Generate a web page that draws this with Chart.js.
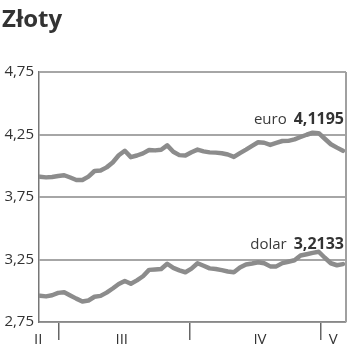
<!DOCTYPE html>
<html>
<head>
<meta charset="utf-8">
<script src="https://cdn.jsdelivr.net/npm/chart.js@4/dist/chart.umd.min.js"></script>
<style>
  html, body { margin: 0; padding: 0; background: #fff; }
  #wrap { position: relative; width: 350px; height: 354px; }
  #title { position: absolute; left: 2px; top: 6px; font: bold 24px/24px "Open Sans", sans-serif; color: #333; }
  canvas { position: absolute; left: 0; top: 0; }
</style>
</head>
<body>
<div id="wrap">
  <canvas id="c" width="350" height="354"></canvas>
  <div id="title">Złoty</div>
</div>
<script>
// ── Dane: kursy dzienne (sesje od połowy lutego do początku maja) ──
const euro = [
    3.912, 3.907, 3.910, 3.918, 3.924, 3.906, 3.886, 3.886, 3.913, 3.958,
    3.962, 3.987, 4.026, 4.084, 4.120, 4.069, 4.082, 4.099, 4.126, 4.123,
    4.128, 4.163, 4.112, 4.085, 4.082, 4.108, 4.129, 4.115, 4.107, 4.105,
    4.100, 4.090, 4.071, 4.101, 4.129, 4.159, 4.188, 4.184, 4.167, 4.183,
    4.198, 4.199, 4.211, 4.230, 4.248, 4.264, 4.261, 4.216, 4.172, 4.145,
    4.1195
];
const dolar = [
    2.960, 2.955, 2.964, 2.983, 2.988, 2.962, 2.937, 2.914, 2.922, 2.952,
    2.959, 2.985, 3.018, 3.054, 3.078, 3.056, 3.083, 3.116, 3.167, 3.170,
    3.174, 3.216, 3.183, 3.163, 3.148, 3.177, 3.220, 3.200, 3.179, 3.174,
    3.165, 3.154, 3.148, 3.186, 3.210, 3.218, 3.228, 3.220, 3.195, 3.195,
    3.221, 3.232, 3.244, 3.282, 3.292, 3.303, 3.312, 3.264, 3.220, 3.204,
    3.2133
];
const seriesNames = ['euro', 'dolar'];
const yTicks = [2.75, 3.25, 3.75, 4.25, 4.75];
const monthLabels = ['II', 'III', 'IV', 'V'];
const monthLabelPos = [-0.3, 13.5, 36.3, 48.4];   // indeks sesji (środek miesiąca)
const monthStarts = [3.14, 24.75, 46.37];          // granice miesięcy

const fmt = v => String(v).replace('.', ',');
const fmt2 = v => v.toFixed(2).replace('.', ',');

const toXY = arr => arr.map((v, i) => ({ x: i, y: v }));

// ── Plugin: ramka prawa, etykiety miesięcy, opisy serii ──
const extras = {
    id: 'extras',
    afterDraw(chart) {
        const { ctx, chartArea: a, scales: { x, y } } = chart;
        ctx.save();
        // prawa krawędź
        ctx.strokeStyle = '#a0a0a0';
        ctx.lineWidth = 2;
        ctx.beginPath();
        ctx.moveTo(a.right, a.top);
        ctx.lineTo(a.right, a.bottom);
        ctx.stroke();

        // miesiące
        ctx.fillStyle = '#333';
        ctx.font = '15px "Open Sans", sans-serif';
        ctx.textAlign = 'center';
        ctx.textBaseline = 'alphabetic';
        monthLabels.forEach((m, i) => {
            ctx.fillText(m, x.getPixelForValue(monthLabelPos[i]), a.bottom + 22);
        });

        // opisy: nazwa + ostatni kurs
        [euro, dolar].forEach((arr, k) => {
            const last = arr[arr.length - 1];
            const px = x.getPixelForValue(arr.length - 1);
            const py = y.getPixelForValue(k === 0 ? 4.25 : 3.25) - 11;
            ctx.textAlign = 'right';
            ctx.font = 'bold 16px "Open Sans", sans-serif';
            ctx.fillStyle = '#333';
            const numTxt = fmt(last);
            ctx.fillText(numTxt, px + 1, py);
            const w = ctx.measureText(numTxt).width;
            ctx.font = '15px "Open Sans", sans-serif';
            ctx.fillStyle = '#3a3a3a';
            ctx.fillText(seriesNames[k], px + 1 - w - 7, py);
        });
        ctx.restore();
    }
};

new Chart(document.getElementById('c'), {
    type: 'line',
    data: {
        datasets: [euro, dolar].map((arr, k) => ({
            label: seriesNames[k],
            data: toXY(arr),
            borderColor: '#8c8c8c',
            borderWidth: 4.5,
            pointRadius: 0,
            tension: 0,
            borderJoinStyle: 'round',
            borderCapStyle: 'round',
        }))
    },
    options: {
        responsive: false,
        animation: false,
        layout: { padding: { top: 72, right: 4, left: 0, bottom: 0 } },
        plugins: { legend: { display: false }, tooltip: { enabled: false } },
        scales: {
            x: {
                type: 'linear',
                min: -0.16,
                max: 50.5,
                afterBuildTicks: s => { s.ticks = monthStarts.map(v => ({ value: v })); },
                afterFit: s => { s.height = 32; },
                ticks: { display: false },
                grid: { drawOnChartArea: false, drawTicks: true, tickLength: 18, color: '#666', lineWidth: 1.5 },
                border: { color: '#888', width: 1.5 },
            },
            y: {
                min: 2.75,
                max: 4.75,
                afterBuildTicks: s => { s.ticks = yTicks.map(v => ({ value: v })); },
                afterFit: s => { s.width = 39; },
                ticks: {
                    callback: v => fmt2(v),
                    color: '#333',
                    padding: 5,
                    font: { family: '"Open Sans", sans-serif', size: 15 },
                },
                grid: { color: '#a6a6a6', lineWidth: 2, drawTicks: false },
                border: { color: '#777', width: 1.5 },
            }
        }
    },
    plugins: [extras]
});
</script>
</body>
</html>
